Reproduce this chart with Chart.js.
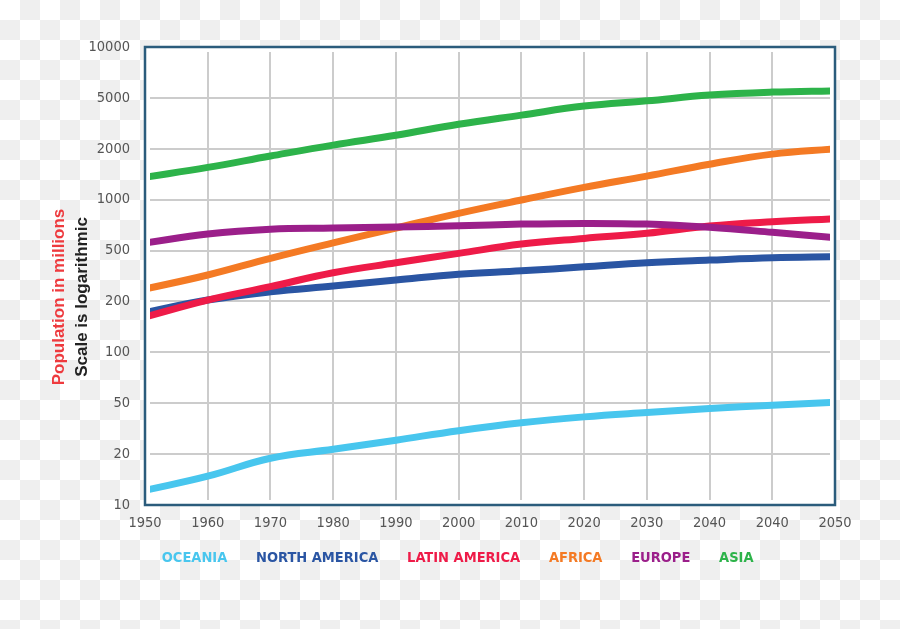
<!DOCTYPE html>
<html>
<head>
<meta charset="utf-8">
<title>Population by region, 1950-2050</title>
<script src="https://cdn.jsdelivr.net/npm/chart.js@4.4.1/dist/chart.umd.min.js"></script>
<style>
  html, body { margin: 0; padding: 0; }
  body {
    width: 900px;
    height: 629px;
    overflow: hidden;
    /* transparent-png checkerboard behind the chart */
    background: repeating-conic-gradient(#efefef 0 25%, #ffffff 0 50%) 0 0 / 40px 40px;
  }
  #wrap { position: relative; width: 900px; height: 629px; }
</style>
</head>
<body>
<div id="wrap"><canvas id="popChart"></canvas></div>
<script>
// --- Data (population in millions) ---
const YEARS = ['1950', '1960', '1970', '1980', '1990', '2000', '2010', '2020', '2030', '2040', '2040', '2050'];
const Y_TICKS = [10, 20, 50, 100, 200, 500, 1000, 2000, 5000, 10000];

const OCEANIA       = [12.2, 14.8, 18.9, 21.8, 25.7, 30.5, 35.2, 39.1, 42.3, 45.5, 48.3, 50.6];
const NORTH_AMERICA = [172, 205, 238, 264, 294, 327, 347, 373, 401, 421, 439, 447];
const LATIN_AMERICA = [162, 205, 261, 335, 401, 475, 546, 590, 632, 698, 740, 771];
const AFRICA        = [250, 322, 435, 555, 679, 830, 995, 1183, 1379, 1620, 1860, 2000];
const EUROPE        = [555, 626, 668, 679, 689, 701, 717, 724, 717, 686, 641, 595];
const ASIA          = [1357, 1552, 1811, 2137, 2550, 3110, 3667, 4314, 4743, 5193, 5410, 5508];

const TICK_FONT = '"Liberation Sans Narrow", "DejaVu Sans Condensed", sans-serif';
const TITLE_FONT = '"Liberation Sans", Arial, sans-serif';

// The printed axis spaces its tick values evenly (10, 20, 50, 100 ...),
// so a value is placed by its log position between the two ticks around it.
function toLevel(v) {
  for (let i = 0; i < Y_TICKS.length - 1; i++) {
    const a = Y_TICKS[i], b = Y_TICKS[i + 1];
    if (v <= b || i === Y_TICKS.length - 2) {
      return i + Math.log(v / a) / Math.log(b / a);
    }
  }
}

function series(label, values, color, order) {
  return {
    label,
    data: values.map(toLevel),
    borderColor: color,
    backgroundColor: color,
    borderWidth: 7,
    pointRadius: 0,
    tension: 0.4,
    fill: false,
    order,
    clip: { left: -5, right: -5, top: 0, bottom: 0 }
  };
}

// --- Frame / titles ---
const framePlugin = {
  id: 'frame',
  beforeDraw(chart) {
    const a = chart.chartArea, ctx = chart.ctx;
    ctx.save();
    ctx.fillStyle = '#ffffff';
    ctx.fillRect(a.left, a.top, a.right - a.left, a.bottom - a.top);
    ctx.restore();
  },
  beforeDatasetsDraw(chart) {
    // grid stops a few pixels short of the frame
    const a = chart.chartArea, ctx = chart.ctx, g = 5;
    ctx.save();
    ctx.fillStyle = '#ffffff';
    ctx.fillRect(a.left, a.top, a.right - a.left, g);
    ctx.fillRect(a.left, a.bottom - g, a.right - a.left, g);
    ctx.fillRect(a.left, a.top, g, a.bottom - a.top);
    ctx.fillRect(a.right - g, a.top, g, a.bottom - a.top);
    ctx.restore();
  },
  afterDraw(chart) {
    const a = chart.chartArea, ctx = chart.ctx;
    ctx.save();
    ctx.strokeStyle = '#2b5c7c';
    ctx.lineWidth = 2.5;
    ctx.strokeRect(a.left, a.top, a.right - a.left, a.bottom - a.top);

    ctx.font = 'bold 17px ' + TITLE_FONT;
    ctx.textAlign = 'center';
    ctx.textBaseline = 'alphabetic';
    ctx.translate(64, 297);
    ctx.rotate(-Math.PI / 2);
    ctx.fillStyle = '#ee3a3e';
    ctx.fillText('Population in millions', 0, 0);
    ctx.fillStyle = '#222222';
    ctx.fillText('Scale is logarithmic', 0, 23);
    ctx.restore();
  }
};

// --- Chart ---
const gridColor = (ctx, last) =>
  (ctx.index === 0 || ctx.index === last) ? 'rgba(0,0,0,0)' : '#cccccc';

new Chart(document.getElementById('popChart').getContext('2d'), {
  type: 'line',
  data: {
    labels: YEARS,
    datasets: [
      series('OCEANIA', OCEANIA, '#48c6ee', 3),
      series('NORTH AMERICA', NORTH_AMERICA, '#2a55a3', 3),
      series('LATIN AMERICA', LATIN_AMERICA, '#ee1b48', 2),
      series('AFRICA', AFRICA, '#f47a24', 3),
      series('EUROPE', EUROPE, '#9b1f8a', 1),
      series('ASIA', ASIA, '#2db34a', 3)
    ]
  },
  options: {
    responsive: true,
    maintainAspectRatio: false,
    animation: false,
    events: [],
    layout: { padding: { top: 47, left: 8, right: 0, bottom: 54 } },
    scales: {
      x: {
        type: 'category',
        offset: false,
        grid: { color: (c) => gridColor(c, YEARS.length - 1), lineWidth: 2, drawTicks: false },
        border: { display: false },
        ticks: { color: '#555555', font: { family: TICK_FONT, size: 14.5 }, padding: 10, maxRotation: 0, autoSkip: false },
        afterFit(s) { s.height = 24; }
      },
      y: {
        type: 'linear',
        min: 0,
        max: Y_TICKS.length - 1,
        grid: { color: (c) => gridColor(c, Y_TICKS.length - 1), lineWidth: 2, drawTicks: false },
        border: { display: false },
        ticks: {
          stepSize: 1,
          color: '#555555',
          font: { family: TICK_FONT, size: 14.5 },
          padding: 15,
          callback: (v) => Y_TICKS[v]
        },
        afterFit(s) { s.width = 137; }
      },
      yRight: {
        type: 'linear',
        position: 'right',
        grid: { display: false },
        border: { display: false },
        ticks: { display: false },
        afterFit(s) { s.width = 65; }
      }
    },
    plugins: {
      tooltip: { enabled: false },
      legend: {
        position: 'bottom',
        labels: {
          boxWidth: 0,
          boxHeight: 0,
          padding: 21.5,
          font: { family: TICK_FONT, size: 14.5, weight: 'bold' },
          generateLabels: (chart) => chart.data.datasets.map((ds, i) => ({
            text: ds.label,
            fontColor: ds.borderColor,
            fillStyle: 'rgba(0,0,0,0)',
            strokeStyle: 'rgba(0,0,0,0)',
            lineWidth: 0,
            hidden: false,
            datasetIndex: i
          }))
        }
      }
    }
  },
  plugins: [framePlugin]
});
</script>
</body>
</html>
